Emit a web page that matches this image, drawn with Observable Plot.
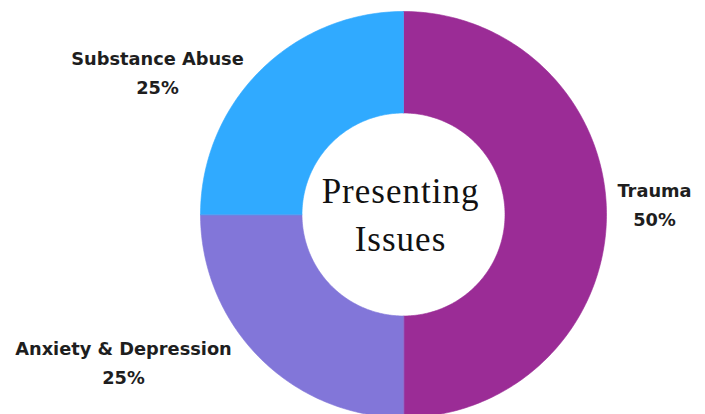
<!DOCTYPE html>
<html>
<head>
<meta charset="utf-8">
<script src="https://cdn.jsdelivr.net/npm/d3@7"></script>
<script src="https://cdn.jsdelivr.net/npm/@observablehq/plot@0.6"></script>
<style>
  html, body { margin: 0; padding: 0; background: #fff; }
  #chart svg { display: block; }
  .center-title text { letter-spacing: 1px; }
</style>
</head>
<body>
<div id="chart"></div>
<script>
// ---- data ----
const categories = ["Trauma", "Anxiety & Depression", "Substance Abuse"];
const shares = [50, 25, 25];
const percentLabels = ["50%", "25%", "25%"];
const colors = ["#9b2c96", "#8276d9", "#30aaff"];
const centerTitle = "Presenting\nIssues";

// ---- layout (pixels) ----
const W = 705, H = 414;
const CX = 403, CY = 214, R = 203, INNER = 0.5;
const labelPx = {
  "Trauma": [654, 202],
  "Anxiety & Depression": [123, 360],
  "Substance Abuse": [157, 70]
};
const titlePx = [400, 211];
const toX = px => (px - CX) / R;
const toY = py => (CY - py) / R;

// ---- build slice polygons in chart units ----
const pie = d3.pie().sort(null).value(d => d.share)(
  categories.map((c, i) => ({category: c, share: shares[i]}))
);
const pts = [];
for (const s of pie) {
  const a0 = s.startAngle, a1 = s.endAngle;
  const n = Math.max(8, Math.ceil((a1 - a0) / (Math.PI / 180)));
  for (let k = 0; k <= n; k++) {
    const a = a0 + (a1 - a0) * k / n;
    pts.push({category: s.data.category, x: Math.sin(a), y: Math.cos(a)});
  }
  for (let k = n; k >= 0; k--) {
    const a = a0 + (a1 - a0) * k / n;
    pts.push({category: s.data.category, x: INNER * Math.sin(a), y: INNER * Math.cos(a)});
  }
}

const labels = categories.map((c, i) => ({
  text: c + "\n" + percentLabels[i],
  x: toX(labelPx[c][0]),
  y: toY(labelPx[c][1])
}));

const chart = Plot.plot({
  width: W,
  height: H,
  margin: 0,
  style: {background: "#fff", overflow: "visible"},
  x: {domain: [toX(0), toX(W)], axis: null},
  y: {domain: [toY(H), toY(0)], axis: null},
  color: {domain: categories, range: colors},
  marks: [
    Plot.line(pts, {x: "x", y: "y", z: "category", fill: "category", stroke: "category", strokeWidth: 0.6, curve: "linear-closed"}),
    Plot.text(labels, {
      x: "x", y: "y", text: "text",
      fontFamily: "'DejaVu Sans', sans-serif", fontWeight: "bold", fontSize: 17.8,
      lineHeight: 1.62, fill: "#1e1e1e", textAnchor: "middle"
    }),
    Plot.text([{t: centerTitle}], {
      x: () => toX(titlePx[0]), y: () => toY(titlePx[1]), text: "t",
      fontFamily: "'Liberation Serif', serif", fontSize: 35,
      lineHeight: 1.36, fill: "#111", textAnchor: "middle",
      className: "center-title"
    })
  ]
});
document.getElementById("chart").appendChild(chart);
</script>
</body>
</html>
